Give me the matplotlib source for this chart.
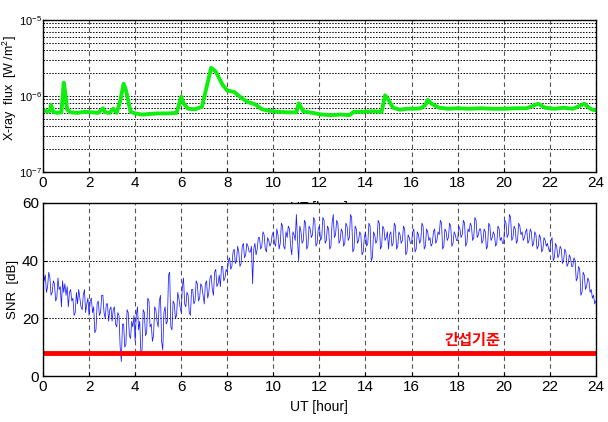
import numpy as np
import matplotlib
matplotlib.use("Agg")
import matplotlib.pyplot as plt
from matplotlib.ticker import LogLocator, NullFormatter, MultipleLocator

# ---- data ----
# GOES X-ray flux, hours UT and flux in units of 1e-7 W/m^2
xray_hour = [0.0, 0.2, 0.3, 0.35, 0.45, 0.6, 0.8, 0.9, 0.95, 1.05, 1.2, 1.5, 1.8, 2.1, 2.4,
             2.6, 2.7, 2.9, 3.05, 3.2, 3.35, 3.5, 3.6, 3.8, 4.0, 4.3, 4.6, 5.0, 5.4, 5.8,
             6.0, 6.1, 6.3, 6.6, 6.9, 7.1, 7.3, 7.5, 7.8, 8.0, 8.3, 8.6, 8.9, 9.2, 9.5,
             9.8, 10.2, 10.6, 11.0, 11.1, 11.3, 11.7, 12.1, 12.5, 12.9, 13.3, 13.5, 13.9, 14.3,
             14.7, 14.85, 14.95, 15.2, 15.5, 15.8, 16.1, 16.4, 16.6, 16.7, 16.9, 17.2, 17.6, 18.0,
             18.5, 19.0, 19.5, 20.0, 20.5, 21.0, 21.5, 21.8, 22.2, 22.6, 23.0, 23.3, 23.5, 23.7,
             23.85, 24.0]
xray_flux = [6.6, 6.2, 6.4, 7.6, 6.2, 6.0, 6.1, 15.0, 12.0, 6.6, 6.1, 6.0, 6.2, 6.1, 6.0,
             6.9, 6.1, 6.0, 6.8, 6.0, 8.5, 14.5, 12.0, 6.2, 5.9, 5.7, 5.8, 5.9, 5.9, 6.0,
             9.8, 8.0, 6.8, 6.7, 7.2, 13.0, 23.5, 21.0, 14.0, 11.8, 11.3, 9.5, 8.3, 7.8, 6.7,
             6.4, 6.2, 6.1, 6.1, 8.0, 6.3, 6.0, 5.7, 5.6, 5.7, 5.6, 6.2, 6.2, 6.3,
             6.2, 10.2, 9.4, 7.0, 6.6, 6.8, 6.8, 6.9, 7.6, 8.9, 7.8, 7.0, 6.8, 6.9,
             6.8, 6.9, 6.8, 6.8, 6.9, 6.9, 7.9, 7.0, 6.8, 7.0, 6.8, 7.4, 7.9, 7.0,
             6.6, 6.5]

# SNR [dB], one value every 0.05 h from 0.00 to 24.00 (one row per hour)
snr_values = [
    38, 33, 35, 29, 31, 36, 34, 28, 29, 33, 32, 26, 27, 34, 30, 31, 24, 33, 29, 32,
    28, 31, 24, 29, 30, 26, 27, 21, 22, 29, 25, 30, 27, 24, 23, 28, 30, 22, 25, 27,
    21, 26, 27, 22, 24, 15, 16, 25, 26, 21, 22, 28, 28, 22, 20, 25, 25, 19, 23, 24,
    19, 23, 24, 18, 17, 22, 21, 10, 5, 18, 18, 10, 11, 23, 22, 14, 13, 19, 17, 21,
    12, 21, 24, 16, 19, 8, 9, 23, 22, 14, 15, 27, 26, 17, 18, 12, 14, 24, 23, 19,
    17, 26, 28, 12, 9, 22, 24, 18, 19, 35, 36, 17, 16, 26, 25, 20, 21, 29, 27, 24,
    22, 31, 34, 25, 24, 29, 28, 22, 21, 30, 30, 25, 26, 33, 32, 26, 27, 32, 31, 28,
    25, 32, 33, 27, 29, 34, 35, 30, 28, 36, 37, 31, 32, 35, 31, 38, 38, 33, 34, 37,
    36, 40, 41, 37, 38, 43, 44, 39, 40, 45, 43, 38, 39, 45, 46, 41, 42, 46, 45, 43,
    43, 45, 32, 44, 46, 42, 44, 48, 48, 44, 45, 50, 49, 44, 43, 48, 47, 45, 46, 49,
    50, 46, 45, 51, 49, 44, 46, 53, 52, 45, 44, 50, 48, 52, 51, 45, 42, 50, 49, 47,
    56, 47, 40, 52, 50, 46, 47, 54, 53, 44, 45, 52, 51, 48, 49, 55, 54, 45, 46, 51,
    52, 47, 48, 55, 54, 46, 47, 52, 51, 44, 45, 53, 56, 48, 49, 54, 53, 46, 47, 51,
    50, 45, 46, 53, 52, 47, 48, 56, 55, 43, 44, 52, 51, 46, 47, 50, 49, 42, 43, 48,
    50, 45, 46, 53, 52, 40, 41, 50, 49, 46, 47, 54, 53, 44, 45, 52, 51, 47, 48, 50,
    44, 49, 50, 45, 46, 53, 52, 44, 45, 50, 49, 46, 47, 52, 51, 42, 43, 49, 48, 46,
    46, 50, 51, 43, 44, 50, 49, 46, 47, 53, 52, 44, 45, 51, 50, 47, 48, 45, 46, 50,
    51, 46, 47, 50, 49, 54, 53, 44, 45, 51, 50, 47, 48, 53, 52, 45, 46, 50, 49, 47,
    47, 52, 51, 48, 49, 54, 53, 45, 46, 51, 50, 53, 52, 47, 48, 55, 54, 48, 49, 51,
    51, 46, 47, 51, 50, 44, 45, 53, 52, 47, 48, 50, 49, 45, 46, 52, 51, 47, 48, 46,
    46, 54, 53, 48, 49, 56, 55, 47, 48, 52, 51, 46, 47, 53, 52, 49, 50, 47, 48, 50,
    51, 46, 47, 51, 50, 45, 46, 50, 49, 44, 45, 49, 48, 43, 44, 48, 47, 45, 46, 44,
    43, 47, 48, 40, 41, 46, 45, 41, 42, 45, 44, 39, 40, 44, 43, 38, 39, 42, 41, 38,
    38, 41, 40, 33, 34, 38, 37, 28, 29, 36, 35, 30, 31, 34, 33, 29, 30, 27, 28, 25,
    26]
snr_hour = np.linspace(0, 24, len(snr_values))

threshold_db = 8
threshold_label = "간섭기준"
xticks = list(range(0, 25, 2))

plt.rcParams["font.family"] = ["Liberation Sans", "DejaVu Sans"]
plt.rcParams["mathtext.fontset"] = "custom"
plt.rcParams["mathtext.rm"] = "Liberation Sans"
plt.rcParams["mathtext.it"] = "Liberation Sans"

fig = plt.figure(figsize=(6.08, 4.22), dpi=100)
ax_top = fig.add_axes([0.0707, 0.5924, 0.9093, 0.3602])
ax_bot = fig.add_axes([0.0707, 0.109, 0.9093, 0.410])

# ---- top: X-ray flux ----
ax_top.plot(xray_hour, np.array(xray_flux) * 1e-7, color="#10ee10", lw=2.8, solid_joinstyle="round")
ax_top.set_yscale("log")
ax_top.set_ylim(1e-7, 1e-5)
ax_top.set_xlim(0, 24)
ax_top.yaxis.set_major_locator(LogLocator(base=10, numticks=5))
ax_top.yaxis.set_minor_locator(LogLocator(base=10, subs=np.arange(2, 10), numticks=10))
ax_top.yaxis.set_minor_formatter(NullFormatter())
ax_top.grid(True, which="both", axis="y", color="black", ls=(0, (1.5, 1.5)), lw=0.7)
ax_top.set_ylabel("X-ray  flux  [W /m$^2$]", fontsize=9)
ax_top.yaxis.set_label_coords(-0.043, 0.55)
ax_top.set_xlabel("UT [hour]", fontsize=10, labelpad=8)

# ---- bottom: SNR ----
ax_bot.plot(snr_hour, snr_values, color="#1a1aff", lw=0.55)
ax_bot.axhline(threshold_db, color="#ff0000", lw=3.5)
ax_bot.text(18.66, 12.5, threshold_label, color="#ff0000", fontsize=11, fontweight="bold",
            ha="center", va="center", family=["Noto Sans CJK KR", "DejaVu Sans"])
ax_bot.set_xlim(0, 24)
ax_bot.set_ylim(0, 60)
ax_bot.yaxis.set_major_locator(MultipleLocator(20))
ax_bot.grid(True, axis="y", color="black", ls=(0, (1.5, 1.5)), lw=0.7)
ax_bot.set_ylabel("SNR  [dB]", fontsize=9.5)
ax_bot.yaxis.set_label_coords(-0.043, 0.5)
ax_bot.set_xlabel("UT [hour]", fontsize=10, labelpad=4)

for ax in (ax_top, ax_bot):
    ax.set_xticks(xticks)
    ax.grid(True, axis="x", color="#555555", ls=(0, (4, 3)), lw=0.8)
    ax.tick_params(direction="in", labelsize=11, length=3, pad=3)
    ax.tick_params(which="minor", length=0)
    ax.set_axisbelow(True)
    for s in ax.spines.values():
        s.set_linewidth(1.0)
ax_top.tick_params(axis="y", labelsize=8, pad=1)

fig.savefig("out.png", dpi=100)
